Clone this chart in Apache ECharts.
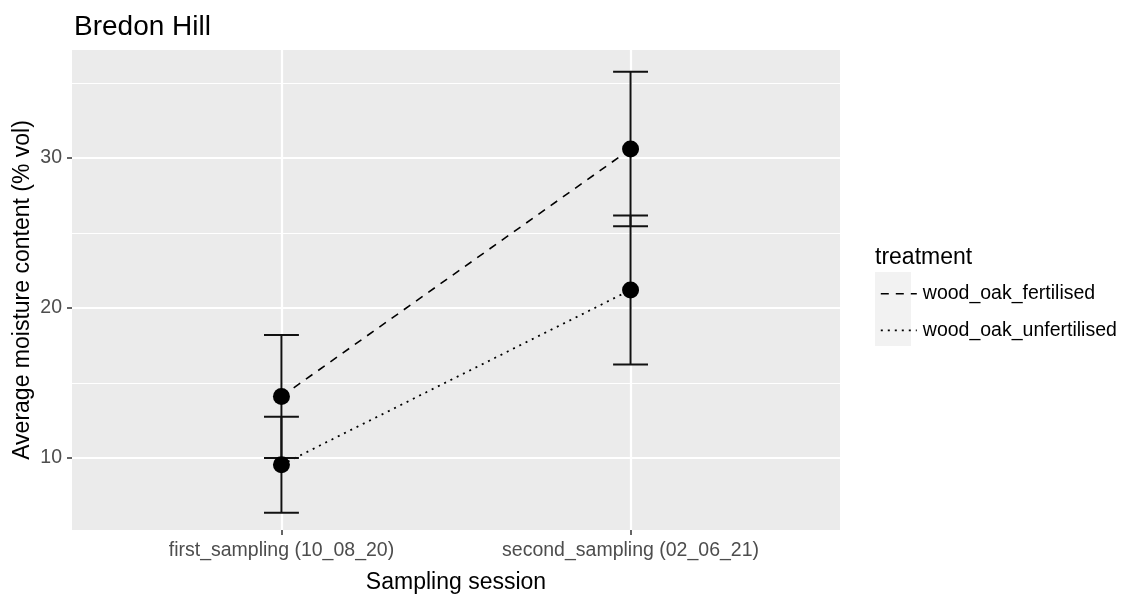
<!DOCTYPE html>
<html>
<head>
<meta charset="utf-8">
<title>Bredon Hill</title>
<script src="https://cdn.jsdelivr.net/npm/echarts@6/dist/echarts.min.js"></script>
<style>
  html, body { margin: 0; padding: 0; background: #ffffff; }
  #chart { width: 1139px; height: 599px; }
</style>
</head>
<body>
<div id="chart"></div>
<script>
// Sampling sessions (x categories) and treatments
const sessions = ['first_sampling (10_08_20)', 'second_sampling (02_06_21)'];
const sessionPos = [1, 2];
const treatments = ['wood_oak_fertilised', 'wood_oak_unfertilised'];

// Average moisture content (% vol) and error half-widths per session
const fertilisedMean = [14.1, 30.6];
const fertilisedErr = [4.1, 5.15];
const unfertilisedMean = [9.55, 21.2];
const unfertilisedErr = [3.2, 4.97];

// Axis ticks
const yMajorTicks = [10, 20, 30];
const yMinorTicks = [15, 25, 35];

const FONT = "'Liberation Sans', Arial, sans-serif";

function linePoints(means) {
  return sessionPos.map((x, i) => [x, means[i]]);
}
function errorRows(means, errs) {
  return sessionPos.map((x, i) => [x, means[i], means[i] - errs[i], means[i] + errs[i]]);
}

// Error bar: vertical whisker with caps of width 0.1 in x data units
function renderErrorBar(params, api) {
  const x = api.value(0);
  const lo = api.coord([x, api.value(2)]);
  const hi = api.coord([x, api.value(3)]);
  const half = api.size([0.1, 0])[0] / 2;
  const style = { stroke: '#111111', lineWidth: 2, fill: null };
  return {
    type: 'group',
    children: [
      { type: 'line', shape: { x1: lo[0], y1: lo[1], x2: hi[0], y2: hi[1] }, style },
      { type: 'line', shape: { x1: hi[0] - half, y1: hi[1], x2: hi[0] + half, y2: hi[1] }, style },
      { type: 'line', shape: { x1: lo[0] - half, y1: lo[1], x2: lo[0] + half, y2: lo[1] }, style }
    ]
  };
}

const chart = echarts.init(document.getElementById('chart'), null, { renderer: 'canvas' });

const option = {
  backgroundColor: '#ffffff',
  animation: false,
  textStyle: { fontFamily: FONT },
  title: [
    {
      text: 'Bredon Hill',
      left: 69, top: 8,
      textStyle: { fontFamily: FONT, fontSize: 28, fontWeight: 'normal', color: '#000000' }
    },
    {
      text: 'treatment',
      left: 870, top: 241,
      textStyle: { fontFamily: FONT, fontSize: 23, fontWeight: 'normal', color: '#000000' }
    }
  ],
  graphic: [
    {
      type: 'rect',
      left: 875, top: 272,
      shape: { width: 36, height: 74 },
      style: { fill: '#F2F2F2' },
      z: 0
    }
  ],
  legend: {
    orient: 'vertical',
    left: 875, top: 274,
    itemWidth: 36, itemHeight: 37, itemGap: 7,
    data: treatments,
    textStyle: { fontFamily: FONT, fontSize: 19.5, color: '#000000', padding: [0, 0, 0, 1] },
    itemStyle: { color: 'rgba(0,0,0,0)', borderColor: 'rgba(0,0,0,0)', borderWidth: 0, opacity: 0 },
    lineStyle: { width: 1.6 },
    selectedMode: false,
    z: 5
  },
  grid: {
    left: 72, top: 50, width: 768, height: 481,
    show: true, backgroundColor: '#EBEBEB', borderWidth: 0
  },
  xAxis: {
    type: 'value',
    min: 0.4, max: 2.6,
    name: 'Sampling session',
    nameLocation: 'middle',
    nameGap: 41,
    nameMoveOverlap: false,
    nameTextStyle: { fontFamily: FONT, fontSize: 23, color: '#000000' },
    axisLine: { show: false },
    axisTick: { show: true, customValues: sessionPos, length: 5, lineStyle: { color: '#333333', width: 1.5 } },
    axisLabel: {
      customValues: sessionPos,
      margin: 11,
      fontFamily: FONT, fontSize: 19.5, color: '#4D4D4D',
      formatter: v => sessions[Math.round(v) - 1] || ''
    },
    splitLine: { show: true, lineStyle: { color: '#ffffff', width: 2.2 } }
  },
  yAxis: [
    {
      type: 'value',
      min: 5.2, max: 37.2,
      name: 'Average moisture content (% vol)',
      nameLocation: 'middle',
      nameGap: 38,
      nameMoveOverlap: false,
      nameTextStyle: { fontFamily: FONT, fontSize: 23, color: '#000000' },
      axisLine: { show: false },
      axisTick: { show: true, customValues: yMajorTicks, length: 5, lineStyle: { color: '#333333', width: 1.5 } },
      axisLabel: {
        customValues: yMajorTicks,
        margin: 10,
        fontFamily: FONT, fontSize: 19.5, color: '#4D4D4D'
      },
      splitLine: { show: true, lineStyle: { color: '#ffffff', width: 2.2 } }
    },
    {
      // minor grid lines only
      type: 'value',
      min: 5.2, max: 37.2,
      position: 'left',
      axisLine: { show: false },
      axisTick: { show: false, customValues: yMinorTicks },
      axisLabel: { show: false, customValues: yMinorTicks },
      splitLine: { show: true, lineStyle: { color: '#ffffff', width: 1.1 } }
    }
  ],
  series: [
    {
      name: treatments[0],
      type: 'line',
      data: linePoints(fertilisedMean),
      symbol: 'none',
      lineStyle: { color: '#000000', width: 1.6, type: [8, 7] },
      itemStyle: { color: '#000000' },
      z: 3
    },
    {
      name: treatments[1],
      type: 'line',
      data: linePoints(unfertilisedMean),
      symbol: 'none',
      lineStyle: { color: '#000000', width: 1.8, type: [2, 5] },
      itemStyle: { color: '#000000' },
      z: 3
    },
    {
      name: 'fertilised error',
      type: 'custom',
      renderItem: renderErrorBar,
      encode: { x: 0, y: [1, 2, 3] },
      data: errorRows(fertilisedMean, fertilisedErr),
      z: 4
    },
    {
      name: 'unfertilised error',
      type: 'custom',
      renderItem: renderErrorBar,
      encode: { x: 0, y: [1, 2, 3] },
      data: errorRows(unfertilisedMean, unfertilisedErr),
      z: 4
    },
    {
      name: 'fertilised mean',
      type: 'scatter',
      data: linePoints(fertilisedMean),
      symbol: 'circle', symbolSize: 17,
      itemStyle: { color: '#000000', opacity: 1 },
      z: 5
    },
    {
      name: 'unfertilised mean',
      type: 'scatter',
      data: linePoints(unfertilisedMean),
      symbol: 'circle', symbolSize: 17,
      itemStyle: { color: '#000000', opacity: 1 },
      z: 5
    }
  ]
};

chart.setOption(option);
</script>
</body>
</html>
